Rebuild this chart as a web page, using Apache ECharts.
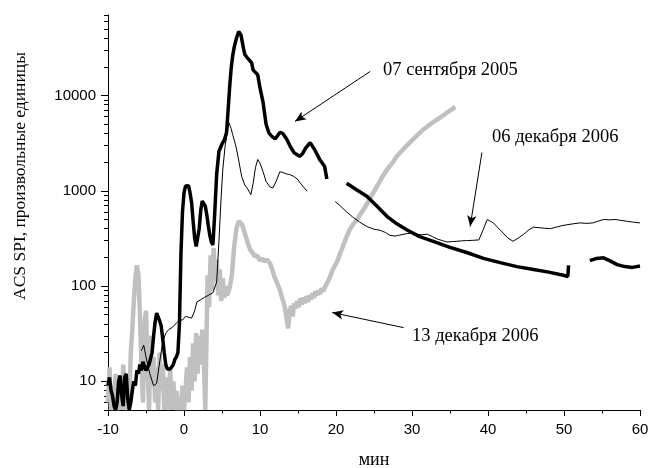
<!DOCTYPE html>
<html>
<head>
<meta charset="utf-8">
<script src="https://cdn.jsdelivr.net/npm/echarts@6/dist/echarts.min.js"></script>
<style>
  html, body { margin: 0; padding: 0; background: #fff; }
  #chart { width: 649px; height: 468px; }
</style>
</head>
<body>
<div id="chart"></div>
<script>
// Time axis, minutes
const xTicks = [-10, 0, 10, 20, 30, 40, 50, 60];
// Log axis labels and ticks
const yMajor = [10, 100, 1000, 10000];
const yMinor = [5, 6, 7, 8, 9, 20, 30, 40, 50, 60, 70, 80, 90,
  200, 300, 400, 500, 600, 700, 800, 900,
  2000, 3000, 4000, 5000, 6000, 7000, 8000, 9000,
  20000, 30000, 40000, 50000, 60000, 70000];

// 07 сентября 2005 (thick black), null marks data gaps
const sepT = [-10, -9.8, -9.6, -9.4, -9.2, -9.0, -8.8, -8.6, -8.4, -8.2, -8.0, -7.8, -7.6, -7.4, -7.2, -7.0,
  -6.8, -6.6, -6.4, -6.2, -6.0, -5.8, -5.6, -5.4, -5.2, -5.0, -4.8, -4.6, -4.4, -4.2, -4.0, -3.8, -3.6, -3.4,
  -3.2, -3.0, -2.8, -2.6, -2.4, -2.2, -2.0, -1.8, -1.6, -1.4, -1.2, -1.0, -0.8, -0.6, -0.4, -0.2, 0.0, 0.2,
  0.4, 0.6, 0.8, 1.0, 1.2, 1.4, 1.6, 1.8, 2.0, 2.2, 2.4, 2.6, 2.8, 3.0, 3.2, 3.4, 3.6, 3.8, 4.0, 4.3, 4.6,
  5.0, 5.3, 5.6, 5.8, 6.0, 6.2, 6.4, 6.6, 6.9, 7.2, 7.5, 7.8, 8.0, 8.3, 8.6, 8.9, 9.1, 9.4, 9.7, 10.0, 10.4,
  10.8, 11.2, 11.6, 12.0, 12.6, 13.0, 13.5, 14.0, 14.5, 15.2, 15.6, 16.0, 16.6, 17.2, 17.9, 18.5, 18.8,
  20.0,
  21.4, 22.5, 24.1, 25.3, 26.7, 28.0, 29.3, 31.0, 32.8, 35.0, 37.2, 39.4, 41.6, 43.8, 46.0, 48.0, 49.9, 50.5, 50.6,
  52.0,
  53.4, 54.3, 55.2, 56.0, 57.0, 58.0, 59.0, 60.0];
const sepV = [9, 11, 8, 7, 5.5, 5, 6, 10, 11.5, 7, 5.5, 11, 12, 6.5, 5, 6,
  8, 10, 9, 13, 12, 15, 13, 16, 16, 13, 14, 15, 15, 20, 30, 42, 52, 50,
  43, 38, 28, 20, 15, 13.5, 13, 13.5, 14, 15, 17, 18, 20, 40, 220, 600, 950, 1120,
  1160, 1130, 950, 750, 480, 320, 260, 270, 400, 620, 780, 770, 690, 560, 430, 340, 290, 270, 500, 1500, 2600,
  3100, 3400, 4100, 7000, 12000, 19000, 26000, 32000, 40000, 47000, 43000, 32000, 27000, 25000, 23500, 22000, 18500, 17500, 16500, 12000, 8500,
  5000, 4000, 3700, 3500, 4100, 4000, 3500, 2900, 2500, 2300, 2450, 2800, 3200, 2700, 2100, 1800, 1330,
  null,
  1200, 1050, 870, 700, 540, 450, 390, 330, 295, 255, 225, 195, 176, 160, 149, 140, 130, 126, 165,
  null,
  185, 195, 198, 185, 168, 160, 157, 162];

// 06 декабря 2006 (thin black)
const decT = [-5.6, -5.3, -5.0, -4.5, -4.0, -3.6, -3.2, -2.8, -2.4, -2.0, -1.5, -1.0, -0.6, -0.2, 0.2, 0.6,
  1.0, 1.4, 1.7, 2.2, 2.7, 3.2, 3.8, 4.3, 4.6, 4.9, 5.1, 5.4, 5.6, 5.9, 6.2, 6.4, 6.8, 7.1, 7.4, 7.6, 8.0,
  8.3, 8.8, 9.1, 9.4, 9.7, 10.0, 10.4, 10.8, 11.3, 11.7, 12.2, 12.6, 13.0, 13.5, 13.9, 14.4, 14.9, 15.5, 16.2,
  18.0,
  19.9, 20.6, 21.4, 22.2, 23.1, 24.1, 25.0, 25.8, 26.5, 27.1, 27.8, 28.2, 29.3, 30.0, 30.6, 31.2, 32.0, 32.7,
  33.4, 34.0, 34.6, 35.3, 35.9, 36.5, 37.2, 38.0, 38.8, 39.3, 39.9, 40.3, 40.7, 41.3, 42.0, 42.6, 43.3, 44.0,
  44.7, 45.4, 46.0, 46.7, 47.4, 48.2, 49.0, 49.7, 50.4, 51.2, 52.1, 53.0, 53.8, 54.5, 55.2, 56.0, 56.7, 57.4,
  58.2, 59.0, 60.0];
const decV = [21, 24, 18, 12, 9, 9.5, 16, 26, 32, 35, 37, 41, 44, 44, 48, 47,
  46, 55, 68, 72, 76, 80, 85, 110, 300, 900, 1650, 2900, 3700, 5200, 4500, 3900, 3000, 2300, 1700, 1400, 1150,
  1070, 910, 1200, 1750, 2130, 1950, 1590, 1250, 1100, 1070, 1300, 1580, 1560, 1500, 1480, 1420, 1330, 1150, 990,
  null,
  770, 690, 600, 530, 470, 420, 395, 385, 365, 340, 335, 340, 355, 360, 350, 345, 350, 330,
  310, 300, 290, 293, 295, 298, 300, 302, 305, 380, 500, 480, 460, 410, 360, 320, 295, 320,
  350, 390, 415, 410, 405, 400, 415, 430, 440, 450, 460, 455, 460, 480, 500, 495, 500, 490,
  480, 470, 460];

// 13 декабря 2006 (grey)
const dec13T = [-10.0, -9.8, -9.6, -9.4, -9.2, -9.0, -8.8, -8.6, -8.4, -8.2, -8.0, -7.8, -7.6, -7.4, -7.2, -7.0,
  -6.8, -6.6, -6.4, -6.2, -6.0, -5.8, -5.6, -5.4, -5.2, -5.0, -4.8, -4.6, -4.4, -4.2, -4.0, -3.8, -3.6, -3.4,
  -3.2, -3.0, -2.8, -2.6, -2.4, -2.2, -2.0, -1.8, -1.6, -1.4, -1.2, -1.0, -0.8, -0.6, -0.4, -0.2, 0.0, 0.2,
  0.4, 0.6, 0.8, 1.0, 1.2, 1.4, 1.6, 1.8, 2.0, 2.2, 2.4, 2.6, 2.8, 3.0, 3.1, 3.3, 3.5, 3.7, 3.9, 4.1, 4.3,
  4.5, 4.7, 4.9, 5.1, 5.3, 5.5, 5.7, 6.0, 6.3, 6.6, 6.9, 7.2, 7.4, 7.6, 8.0, 8.4, 8.7, 9.0, 9.3, 9.6, 10.0,
  10.3, 10.6, 10.9, 11.3, 11.6, 11.9, 12.2, 12.6, 12.9, 13.1, 13.3, 13.5, 13.7, 13.9, 14.1, 14.3, 14.5, 14.7,
  14.9, 15.1, 15.3, 15.5, 15.7, 15.9, 16.1, 16.3, 16.5, 16.7, 16.9, 17.1, 17.3, 17.5, 17.7, 17.9, 18.1, 18.3,
  18.6, 18.9, 19.2, 19.6, 20.1, 20.5, 20.9, 21.4, 21.8, 22.3, 22.8, 23.2, 23.6, 24.2, 24.9, 25.5, 26.2, 26.9,
  27.5, 28.0, 28.8, 29.7, 30.5, 31.5, 32.4, 33.3, 34.0, 34.6, 35.2, 35.7];
const dec13V = [6, 14, 5, 9, 5, 12, 6, 5, 10, 5, 15, 7, 5, 11, 6, 20,
  35, 70, 120, 165, 130, 50, 15, 6, 40, 55, 15, 5, 30, 9, 18, 6, 14, 5,
  20, 8, 15, 5, 11, 5, 9, 13, 5, 10, 5, 8, 5, 7, 5, 9, 5, 8,
  14, 6, 18, 8, 25, 10, 32, 12, 30, 15, 35, 18, 5, 5, 130, 60, 210, 90, 250, 110, 190,
  80, 150, 70, 120, 75, 100, 80, 95, 130, 260, 400, 480, 500, 450, 360, 280, 240, 225, 205, 210, 185,
  195, 180, 190, 175, 150, 125, 110, 92, 75, 68, 58, 45, 36, 55, 62, 48, 66, 58,
  70, 60, 74, 64, 76, 66, 78, 68, 80, 72, 84, 75, 88, 80, 90, 82, 95, 88,
  100, 110, 125, 150, 177, 215, 260, 330, 390, 450, 500, 570, 630, 760, 950, 1150, 1450, 1750,
  2000, 2300, 2700, 3200, 3700, 4400, 5000, 5600, 6100, 6600, 7100, 7600];

// Annotation arrows: [from, to] in (minutes, value)
const arrowSep = [[24.5, 17900], [14.6, 5350]];
const arrowDec06 = [[39.2, 2520], [37.65, 422]];
const arrowDec13 = [[28.9, 36.6], [19.5, 52.7]];

const pairs = (t, v) => t.map((x, i) => [x, v[i]]);
const arrowLine = a => [{ coord: a[0], symbol: 'none' }, { coord: a[1], symbol: 'arrow' }];

const SERIF = '"Liberation Serif", "Times New Roman", serif';
const SANS = '"Liberation Sans", Arial, sans-serif';

const chart = echarts.init(document.getElementById('chart'));
chart.setOption({
  animation: false,
  backgroundColor: '#ffffff',
  grid: { left: 108, right: 9, top: 15, bottom: 58, containLabel: false, outerBoundsMode: 'none' },
  xAxis: {
    type: 'value',
    min: xTicks[0],
    max: xTicks[xTicks.length - 1],
    interval: 10,
    name: 'мин',
    nameLocation: 'middle',
    nameGap: 41,
    nameTextStyle: { fontFamily: SERIF, fontSize: 18, color: '#000' },
    axisLine: { onZero: false, lineStyle: { color: '#000', width: 1 } },
    axisTick: { length: 6, lineStyle: { color: '#000' } },
    minorTick: { show: true, splitNumber: 2, length: 3.5, lineStyle: { color: '#000' } },
    axisLabel: { fontFamily: SANS, fontSize: 15, color: '#000', margin: 12 },
    splitLine: { show: false }
  },
  yAxis: [{
    type: 'log',
    logBase: 10,
    min: 5,
    max: 70000,
    axisLine: { show: true, onZero: false, lineStyle: { color: '#000', width: 1 } },
    axisTick: { show: true, length: 7, customValues: yMajor, lineStyle: { color: '#000' } },
    axisLabel: {
      customValues: yMajor, fontFamily: SANS, fontSize: 15, color: '#000', margin: 12,
      formatter: v => String(Math.round(v))
    },
    splitLine: { show: false }
  }, {
    type: 'log',
    logBase: 10,
    min: 5,
    max: 70000,
    position: 'left',
    axisLine: { show: false, onZero: false },
    axisTick: { show: true, length: 4, customValues: yMinor, lineStyle: { color: '#000' } },
    axisLabel: { show: false },
    splitLine: { show: false }
  }],
  series: [{
    name: '13 декабря 2006',
    type: 'line',
    data: pairs(dec13T, dec13V),
    showSymbol: false,
    lineStyle: { color: '#c0c0c0', width: 4.5 },
    z: 1
  }, {
    name: '06 декабря 2006',
    type: 'line',
    data: pairs(decT, decV),
    showSymbol: false,
    connectNulls: false,
    lineStyle: { color: '#000', width: 1 },
    z: 2,
    markLine: {
      silent: true,
      animation: false,
      symbolSize: [7, 11],
      label: { show: false },
      lineStyle: { color: '#000', width: 1, type: 'solid' },
      data: [arrowLine(arrowSep), arrowLine(arrowDec06), arrowLine(arrowDec13)]
    }
  }, {
    name: '07 сентября 2005',
    type: 'line',
    data: pairs(sepT, sepV),
    showSymbol: false,
    connectNulls: false,
    lineStyle: { color: '#000', width: 3.5 },
    z: 3
  }],
  graphic: [{
    type: 'text',
    x: 20, y: 176,
    rotation: Math.PI / 2,
    style: { text: 'ACS SPI, произвольные единицы', font: '17.5px ' + SERIF, fill: '#000', align: 'center', verticalAlign: 'middle' }
  }, {
    type: 'text',
    x: 383, y: 70,
    style: { text: '07 сентября 2005', font: '18.5px ' + SERIF, fill: '#000', align: 'left', verticalAlign: 'middle' }
  }, {
    type: 'text',
    x: 492, y: 137,
    style: { text: '06 декабря 2006', font: '18.5px ' + SERIF, fill: '#000', align: 'left', verticalAlign: 'middle' }
  }, {
    type: 'text',
    x: 412, y: 336,
    style: { text: '13 декабря 2006', font: '18.5px ' + SERIF, fill: '#000', align: 'left', verticalAlign: 'middle' }
  }]
});
</script>
</body>
</html>
